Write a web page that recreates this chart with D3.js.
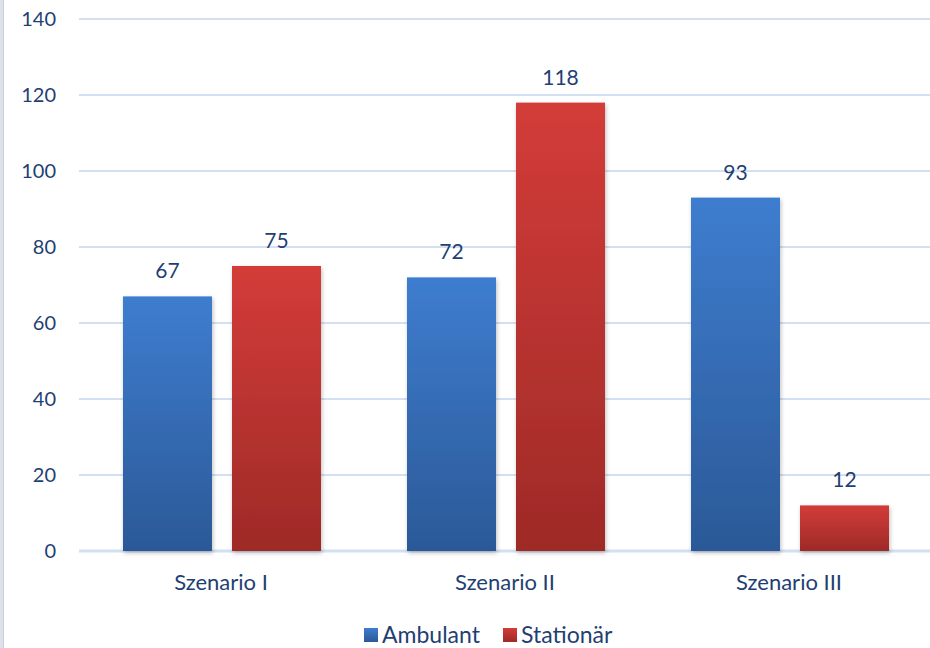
<!DOCTYPE html>
<html>
<head>
<meta charset="utf-8">
<script src="https://cdn.jsdelivr.net/npm/d3@7"></script>
<style>
  body { margin: 0; background: #fff; }
  svg { display: block; font-family: Lato, "Open Sans", sans-serif; }
</style>
</head>
<body>
<svg id="chart" width="930" height="648"></svg>
<script>
const categories = ["Szenario I", "Szenario II", "Szenario III"]
const seriesNames = ["Ambulant", "Stationär"]
const ambulant = [67, 72, 93]
const stationaer = [75, 118, 12]
const yTicks = [0, 20, 40, 60, 80, 100, 120, 140]

const textColor = "#1f3f73"
const colors = {
    "Ambulant": ["#3e7dcf", "#2b5997"],
    "Stationär": ["#d33c39", "#9e2a27"]
}

const svg = d3.select("#chart")

// left edge strip
svg.append("rect").attr("x", 0).attr("y", 0).attr("width", 3).attr("height", 648).attr("fill", "#dde2ea")
svg.append("rect").attr("x", 3).attr("y", 0).attr("width", 1).attr("height", 648).attr("fill", "#c9d0dc")

const defs = svg.append("defs")
seriesNames.forEach((s, i) => {
    const g = defs.append("linearGradient").attr("id", "grad" + i)
        .attr("x1", 0).attr("y1", 0).attr("x2", 0).attr("y2", 1)
    g.append("stop").attr("offset", "0%").attr("stop-color", colors[s][0])
    g.append("stop").attr("offset", "100%").attr("stop-color", colors[s][1])
})
const shadow = defs.append("filter").attr("id", "shadow").attr("x", "-20%").attr("y", "-20%").attr("width", "140%").attr("height", "140%")
shadow.append("feDropShadow").attr("dx", 1).attr("dy", 2).attr("stdDeviation", 2).attr("flood-color", "#000").attr("flood-opacity", 0.25)

const x = d3.scaleBand().domain(categories).range([79, 931])
const xInner = d3.scaleBand().domain(seriesNames).range([44, 242]).paddingInner(0.1835)
const y = d3.scaleLinear().domain([0, 140]).range([551, 19])

// gridlines
svg.append("g").selectAll("line")
    .data(yTicks)
    .join("line")
        .attr("x1", 79).attr("x2", 930)
        .attr("y1", d => y(d)).attr("y2", d => y(d))
        .attr("stroke", "#d3e0f1")
        .attr("stroke-width", d => d === 0 ? 3 : 2)

// y tick labels
svg.append("g").selectAll("text")
    .data(yTicks)
    .join("text")
        .attr("x", 56).attr("y", d => y(d))
        .attr("dy", "0.36em")
        .attr("text-anchor", "end")
        .attr("font-size", 20)
        .attr("fill", textColor)
        .text(d => d)

const rows = []
categories.forEach((c, i) => {
    rows.push({ cat: c, series: "Ambulant", idx: 0, value: ambulant[i] })
    rows.push({ cat: c, series: "Stationär", idx: 1, value: stationaer[i] })
})

svg.append("g").selectAll("rect")
    .data(rows)
    .join("rect")
        .attr("x", d => x(d.cat) + xInner(d.series))
        .attr("y", d => y(d.value))
        .attr("width", xInner.bandwidth())
        .attr("height", d => y(0) - y(d.value))
        .attr("fill", d => `url(#grad${d.idx})`)
        .attr("filter", "url(#shadow)")

svg.append("g").selectAll("text")
    .data(rows)
    .join("text")
        .attr("x", d => x(d.cat) + xInner(d.series) + xInner.bandwidth() / 2)
        .attr("y", d => y(d.value) - 18)
        .attr("text-anchor", "middle")
        .attr("font-size", 21)
        .attr("fill", textColor)
        .text(d => d.value)

// x labels
svg.append("g").selectAll("text")
    .data(categories)
    .join("text")
        .attr("x", d => x(d) + x.bandwidth() / 2)
        .attr("y", 582)
        .attr("dy", "0.36em")
        .attr("text-anchor", "middle")
        .attr("font-size", 22)
        .attr("fill", textColor)
        .text(d => d)

// legend
const legendX = [364, 503]
const legend = svg.append("g").selectAll("g")
    .data(seriesNames)
    .join("g")
        .attr("transform", (d, i) => `translate(${legendX[i]}, 635)`)
legend.append("rect")
    .attr("x", 0).attr("y", -7).attr("width", 14).attr("height", 14)
    .attr("fill", (d, i) => `url(#grad${i})`)
legend.append("text")
    .attr("x", 18).attr("dy", "0.36em")
    .attr("font-size", 23)
    .attr("fill", textColor)
    .text(d => d)
</script>
</body>
</html>
